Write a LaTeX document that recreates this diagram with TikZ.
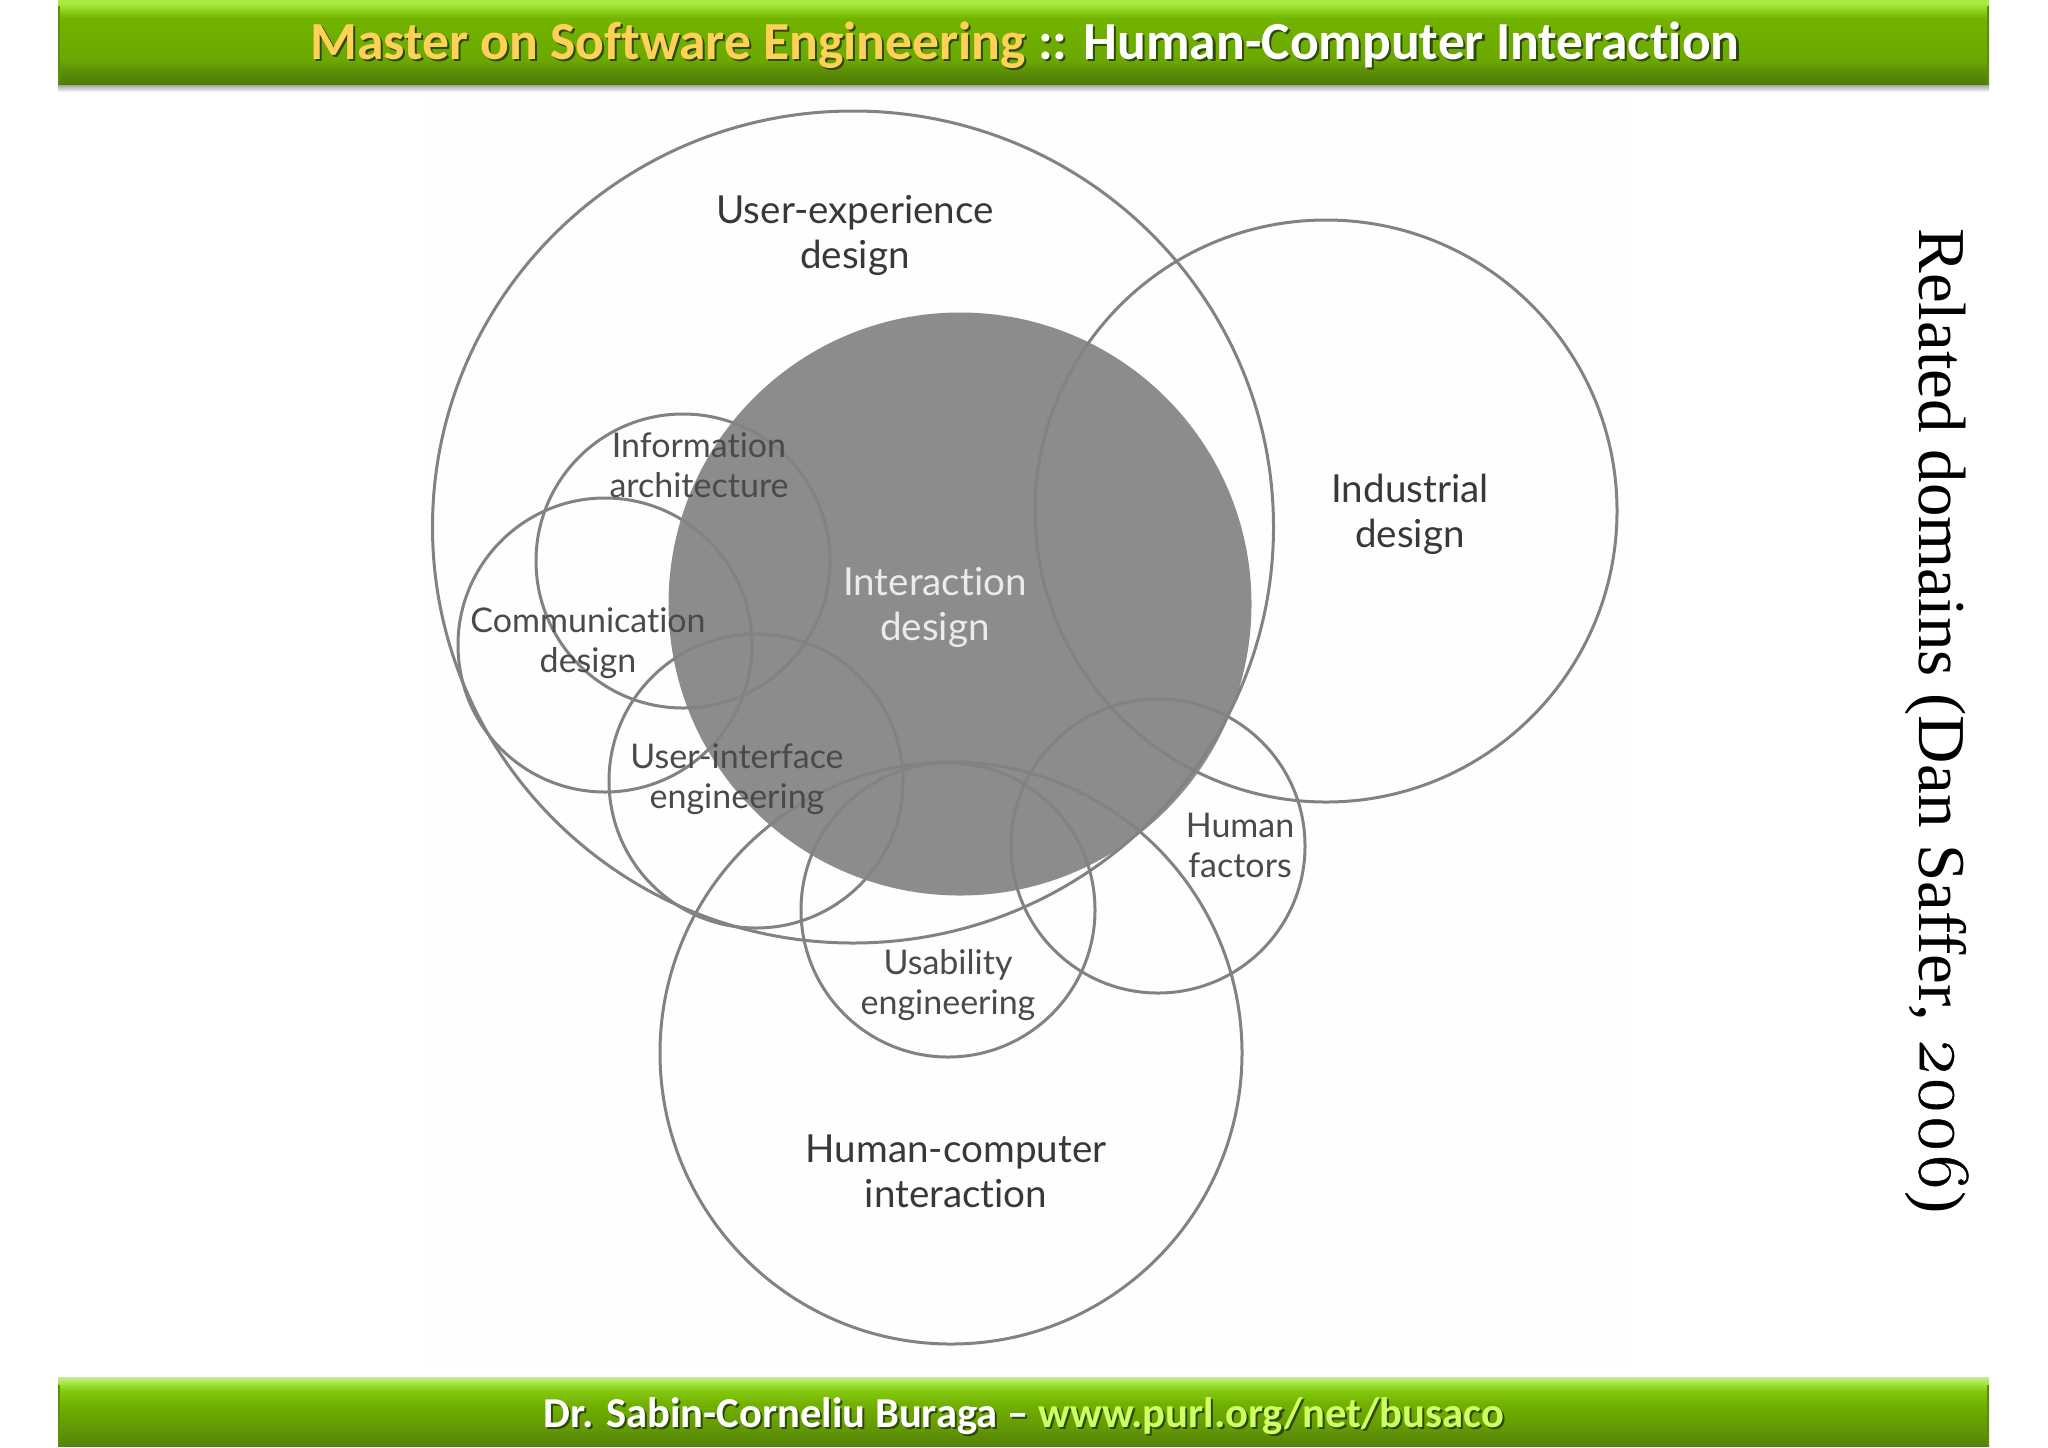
\documentclass[tikz,border=0pt]{standalone}
\usepackage{fontspec}
\setmainfont{Latin Modern Roman}
\newfontfamily\barfont[RawFeature=-liga]{Carlito}
\newfontfamily\labfont[RawFeature=-liga]{Lato}
\newfontfamily\sidefont{Liberation Serif}
\newfontfamily\sidenums[Numbers=OldStyle,FakeBold=0.6,Scale=1.1]{Latin Modern Roman}
\usetikzlibrary{shapes.geometric}
\definecolor{lineg}{HTML}{828282}
\definecolor{fillg}{HTML}{8C8C8C}
\definecolor{labg}{HTML}{4A4A4A}
\definecolor{gold}{HTML}{FFD257}
\definecolor{lime}{HTML}{CFFF63}
\definecolor{ba}{HTML}{4E7D06}
\definecolor{bb}{HTML}{5C8F06}
\definecolor{bc}{HTML}{6BA802}
\definecolor{bd}{HTML}{72B300}
\definecolor{be}{HTML}{8FD11C}
\definecolor{bf}{HTML}{A8EC40}
\definecolor{fa}{HTML}{53820A}
\definecolor{fb}{HTML}{659C04}
\definecolor{fc}{HTML}{70B000}
\definecolor{fd}{HTML}{84C810}
\definecolor{fe}{HTML}{A5EA3E}
\definecolor{ff}{HTML}{C9E8A0}
\definecolor{dropg}{HTML}{8A8A8A}
\definecolor{shad}{HTML}{2E4A05}
\pgfdeclareverticalshading{barshade}{100bp}{
  color(0bp)=(ba);
  color(25bp)=(ba);
  color(33bp)=(bb);
  color(39bp)=(bc);
  color(64bp)=(bd);
  color(69bp)=(be);
  color(73bp)=(bf);
  color(100bp)=(bf)}
\pgfdeclareverticalshading{footshade}{100bp}{
  color(0bp)=(fa);
  color(25bp)=(fa);
  color(40bp)=(fb);
  color(55bp)=(fc);
  color(65bp)=(fd);
  color(71bp)=(fe);
  color(75bp)=(ff);
  color(100bp)=(ff)}
\pgfdeclareverticalshading{dropshade}{100bp}{
  color(0bp)=(white);
  color(25bp)=(white);
  color(75bp)=(dropg);
  color(100bp)=(dropg)}
\tikzset{
  x=0.5pt,y=-0.5pt,
  big/.style={circle,draw=lineg,line width=1.5pt,minimum size=291pt,inner sep=0pt},
  small/.style={circle,draw=lineg,line width=1.5pt,minimum size=147pt,inner sep=0pt},
  lablarge/.style={font=\labfont\fontsize{19.3}{22.5}\selectfont,align=center,text=black!78,inner sep=0pt},
  labsmall/.style={font=\labfont\fontsize{17}{20}\selectfont,align=center,text=labg,inner sep=0pt},
  bartext/.style={font=\barfont\bfseries\fontsize{26.8}{26.8}\selectfont,inner sep=0pt},
  foottext/.style={font=\barfont\bfseries\fontsize{21.3}{21.3}\selectfont,inner sep=0pt},
}
\begin{document}
\begin{tikzpicture}
\useasboundingbox (0,0) rectangle (2048,1447);
\fill[white] (0,0) rectangle (2048,1447);
\fill[black!0.5] (425,100) rectangle (1625,1362);
% header bar
\shade[shading=dropshade] (58,83) rectangle (1989,92);
\shade[shading=barshade] (58,0) rectangle (1989,84);
\fill[bb] (58,6) rectangle (60,84);
\fill[bb] (1987,6) rectangle (1989,84);
% footer bar
\shade[shading=footshade] (58,1377) rectangle (1989,1446);
\fill[bb] (58,1385) rectangle (60,1446);
\fill[bb] (1987,1385) rectangle (1989,1446);
% circles
\node[big,fill=fillg,draw=fillg,minimum size=290pt] (ixd) at (960,604) {};
\node[ellipse,draw=lineg,line width=1.5pt,minimum width=420.5pt,minimum height=416pt,inner sep=0pt] (ux) at (853,527) {};
\node[big] (ind) at (1326,511) {};
\node[big] (hci) at (951,1053) {};
\node[small] (ia) at (683,561) {};
\node[small] (comm) at (605,645) {};
\node[small] (ui) at (756,781) {};
\node[small] (usab) at (948,910) {};
\node[small] (hf) at (1158,846) {};
% labels
\node[lablarge] (lux) at (855,235) {User-experience\\design};
\node[lablarge] (lind) at (1410,514) {Industrial\\design};
\node[lablarge,text=black!8] (lixd) at (935,607) {Interaction\\design};
\node[lablarge] (lhci) at (956,1171) {Human-computer\\interaction};
\node[labsmall] (lia) at (699,465) {Information\\architecture};
\node[labsmall] (lcomm) at (588,643) {Communication\\design};
\node[labsmall] (lui) at (737,779) {User-interface\\engineering};
\node[labsmall] (lusab) at (948,985) {Usability\\engineering};
\node[labsmall] (lhf) at (1240,845) {Human\\factors};
% side title
\node[font=\sidefont\fontsize{33.5}{33.5}\selectfont,rotate=-90,inner sep=0pt,text=black] (side) at (1937,721) {Related domains (Dan Saffer, {\sidenums 2006})};
% bar texts (drop shadow first)
\node[bartext,text=shad] (ts) at (1027,47) {Master on Software Engineering :: Human-Computer Interaction};
\node[bartext] (tt) at (1025,45) {\textcolor{gold}{Master on Software Engineering} \textcolor{white}{:: Human-Computer Interaction}};
\node[foottext,text=shad] (fs) at (1026,1418) {Dr. Sabin-Corneliu Buraga – www.purl.org/net/busaco};
\node[foottext] (ft) at (1024,1416) {\textcolor{white}{Dr. Sabin-Corneliu Buraga –} \textcolor{lime}{www.purl.org/net/busaco}};
\end{tikzpicture}
\end{document}
